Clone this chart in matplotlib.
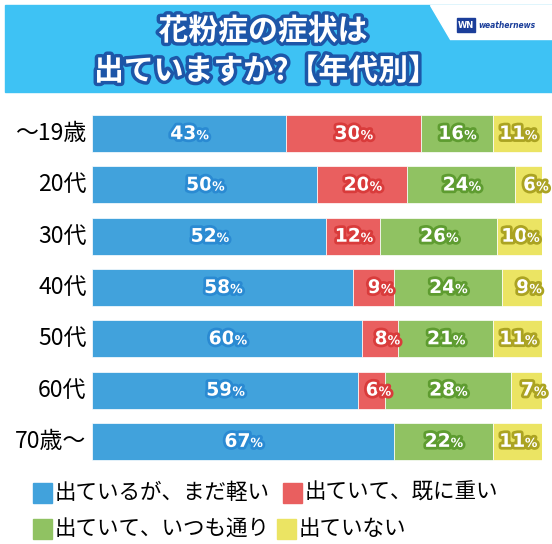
import matplotlib.pyplot as plt
import matplotlib.patheffects as pe
from matplotlib.patches import Rectangle, Polygon

plt.rcParams['font.family'] = ['Noto Sans CJK JP', 'DejaVu Sans']

# data (percent)
ages = ['～19歳', '20代', '30代', '40代', '50代', '60代', '70歳～']
mild = [43, 50, 52, 58, 60, 59, 67]
severe = [30, 20, 12, 9, 8, 6, 0]
usual = [16, 24, 26, 24, 21, 28, 22]
none_ = [11, 6, 10, 9, 11, 7, 11]

series = [mild, severe, usual, none_]
legend_labels = ['出ているが、まだ軽い', '出ていて、既に重い', '出ていて、いつも通り', '出ていない']
colors = ['#41A2DC', '#E95F5F', '#90C262', '#EBE463']
edge_colors = ['#2A8AD2', '#D93B3B', '#5E9C30', '#ABA322']

W, H = 552, 544
fig = plt.figure(figsize=(W / 100, H / 100), dpi=100)

def fx(px):
    return px / W

def fy(py):
    return 1 - py / H

# header banner
fig.patches.append(Rectangle((fx(5), fy(92)), fx(547), (92 - 5) / H,
                             transform=fig.transFigure, color='#3EC2F4', zorder=0))
fig.patches.append(Polygon([(fx(430), fy(5)), (fx(552), fy(5)), (fx(552), fy(39)), (fx(450), fy(39))],
                           closed=True, transform=fig.transFigure, color='white', zorder=1))
fig.patches.append(Rectangle((fx(457), fy(32)), fx(18), 14 / H,
                             transform=fig.transFigure, color='#1B3E9A', zorder=2))
fig.text(fx(466), fy(25), 'WN', color='white', fontsize=6, fontweight='bold',
         ha='center', va='center', family='DejaVu Sans', zorder=3)
fig.text(fx(478), fy(25), 'weathernews', color='#1B3E9A', fontsize=5.5, fontweight='bold',
         ha='left', va='center', family='DejaVu Sans', style='italic', zorder=3)

title_fx = [pe.withStroke(linewidth=5, foreground='#1D56A8')]
fig.text(fx(263), fy(31), '花粉症の症状は', color='white', fontsize=21.5, fontweight='bold',
         ha='center', va='center', path_effects=title_fx)
fig.text(fx(266), fy(71), '出ていますか?【年代別】', color='white', fontsize=21.5, fontweight='bold',
         ha='center', va='center', path_effects=title_fx)

# bars
ax = fig.add_axes([fx(92), fy(467), fx(450), (467 - 108) / H])
ypos = list(range(len(ages)))
left = [0] * len(ages)
for vals, c, ec in zip(series, colors, edge_colors):
    ax.barh(ypos, vals, left=left, height=0.72, color=c, edgecolor='white', linewidth=0.5)
    for i, v in enumerate(vals):
        if v > 0:
            xc = left[i] + v / 2
            stroke = [pe.withStroke(linewidth=4, foreground=ec)]
            ax.annotate(str(v), (xc, i), xytext=(5.5, 0), textcoords='offset points',
                        ha='right', va='center', color='white', fontsize=13.5, fontweight='bold',
                        family='DejaVu Sans', path_effects=stroke)
            ax.annotate('%', (xc, i), xytext=(5.5, -1.5), textcoords='offset points',
                        ha='left', va='center', color='white', fontsize=9, fontweight='bold',
                        family='DejaVu Sans', path_effects=stroke)
    left = [l + v for l, v in zip(left, vals)]

ax.set_xlim(0, 100)
ax.set_ylim(len(ages) - 0.5, -0.5)
ax.axis('off')

for i, a in enumerate(ages):
    ax.annotate(a, (0, i), xytext=(-4, 0), textcoords='offset points',
                ha='right', va='center', fontsize=16.5, color='black')

# legend
legend_pos = [(33, 493, 55), (283, 493, 305), (33, 529, 55), (277, 529, 299)]
for (sx, sy, tx), lab, c in zip(legend_pos, legend_labels, colors):
    fig.patches.append(Rectangle((fx(sx), fy(sy + 10)), fx(19), 20 / H,
                                 transform=fig.transFigure, color=c))
    fig.text(fx(tx), fy(sy), lab, fontsize=15.5, ha='left', va='center', color='black')

fig.savefig('out.png', dpi=100, facecolor='white')
